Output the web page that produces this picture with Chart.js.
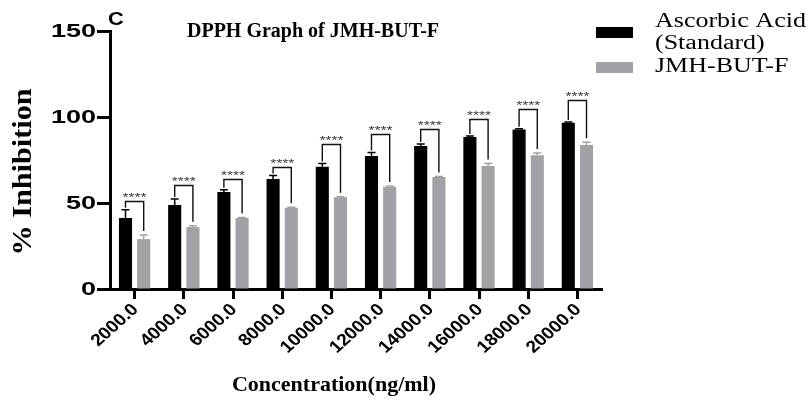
<!DOCTYPE html>
<html>
<head>
<meta charset="utf-8">
<script src="https://cdn.jsdelivr.net/npm/chart.js@4/dist/chart.umd.min.js"></script>
<style>
    html, body { margin: 0; padding: 0; background: #ffffff; }
    #wrap { width: 809px; height: 400px; position: relative; }
</style>
</head>
<body>
<div id="wrap"><canvas id="dpphChart" width="809" height="400"></canvas></div>
<script>
// concentrations (ng/ml)
const concentrations = ["2000.0", "4000.0", "6000.0", "8000.0", "10000.0", "12000.0", "14000.0", "16000.0", "18000.0", "20000.0"];

// mean % inhibition
const ascorbicMean = [41.3, 48.8, 56.4, 64.0, 71.1, 77.3, 83.1, 88.4, 92.8, 96.7];
const jmhMean = [29.0, 36.0, 41.3, 47.3, 53.3, 59.5, 65.1, 71.5, 77.7, 83.7];

// SD (upper error bars only)
const ascorbicSD = [4.8, 3.5, 1.3, 2.0, 1.9, 2.0, 1.2, 0.5, 0.4, 0.4];
const jmhSD = [2.4, 0.8, 0.3, 0.3, 0.3, 0.4, 0.3, 1.5, 1.3, 1.6];

// significance brackets (height in % inhibition) and stars
const bracketTop = [51, 60.5, 63.8, 71, 84.1, 89.9, 93.2, 98.8, 104.7, 109.9];
const sigLabels = ["****", "****", "****", "****", "****", "****", "****", "****", "****", "****"];

const yTicks = [0, 50, 100, 150];

const black = "#000000";
const grey = "rgb(162,162,166)";
const serif = "'Liberation Serif', 'Times New Roman', serif";
const sans = "'Liberation Sans', Arial, sans-serif";

// the exported figure text is drawn wide, so labels get a horizontal stretch
function wideText(ctx, text, x, y, sx) {
    ctx.save();
    ctx.translate(x, y);
    ctx.scale(sx, 1);
    ctx.fillText(text, 0, 0);
    ctx.restore();
}

// up-only error bars with a small cap
const errorBars = {
    id: "errorBars",
    afterDatasetsDraw(chart) {
        const ctx = chart.ctx;
        const y = chart.scales.y;
        const sds = [ascorbicSD, jmhSD];
        ctx.save();
        chart.data.datasets.forEach(function (ds, d) {
            const meta = chart.getDatasetMeta(d);
            ctx.strokeStyle = ds.backgroundColor;
            ctx.lineWidth = 1.5;
            meta.data.forEach(function (bar, i) {
                const top = y.getPixelForValue(ds.data[i] + sds[d][i]);
                ctx.beginPath();
                ctx.moveTo(bar.x, bar.y);
                ctx.lineTo(bar.x, top);
                ctx.moveTo(bar.x - 4, top);
                ctx.lineTo(bar.x + 4, top);
                ctx.stroke();
            });
        });
        ctx.restore();
    }
};

// brackets between the two bars of each group, with stars on top
const sigBrackets = {
    id: "sigBrackets",
    afterDatasetsDraw(chart) {
        const ctx = chart.ctx;
        const y = chart.scales.y;
        const a = chart.getDatasetMeta(0).data;
        const b = chart.getDatasetMeta(1).data;
        ctx.save();
        ctx.strokeStyle = "#111";
        ctx.lineWidth = 1.4;
        ctx.fillStyle = "#333";
        ctx.font = "11px " + sans;
        ctx.textAlign = "center";
        ctx.textBaseline = "bottom";
        for (let i = 0; i < concentrations.length; i++) {
            const lineY = Math.round(y.getPixelForValue(bracketTop[i])) + 0.5;
            const leftEnd = y.getPixelForValue(ascorbicMean[i] + ascorbicSD[i]) - 2;
            const rightEnd = y.getPixelForValue(jmhMean[i] + jmhSD[i]) - 4;
            ctx.beginPath();
            ctx.moveTo(a[i].x, leftEnd);
            ctx.lineTo(a[i].x, lineY);
            ctx.lineTo(b[i].x, lineY);
            ctx.lineTo(b[i].x, rightEnd);
            ctx.stroke();
            wideText(ctx, sigLabels[i], (a[i].x + b[i].x) / 2, lineY + 2, 1.4);
        }
        ctx.restore();
    }
};

// tick labels for both axes, taken from the scales
const tickLabels = {
    id: "tickLabels",
    afterDraw(chart) {
        const ctx = chart.ctx;
        const x = chart.scales.x;
        const y = chart.scales.y;
        ctx.save();
        ctx.fillStyle = "#000";

        ctx.font = "bold 18px " + sans;
        ctx.textAlign = "right";
        ctx.textBaseline = "middle";
        y.ticks.forEach(function (t) {
            wideText(ctx, String(t.value), y.right - 14, y.getPixelForValue(t.value) + 1, 1.5);
        });

        ctx.font = "bold 17px " + sans;
        x.ticks.forEach(function (t, i) {
            ctx.save();
            ctx.translate(x.getPixelForTick(i) + 1, x.top + 18);
            ctx.scale(1.12, 1);
            ctx.rotate(-Math.PI / 4);
            ctx.textAlign = "right";
            ctx.textBaseline = "middle";
            ctx.fillText(x.getLabelForValue(t.value), 0, 0);
            ctx.restore();
        });
        ctx.restore();
    }
};

// title, panel letter, axis titles and the legend
const decorations = {
    id: "decorations",
    afterDraw(chart) {
        const ctx = chart.ctx;
        ctx.save();
        ctx.fillStyle = "#000";
        ctx.textBaseline = "alphabetic";

        ctx.font = "bold 19px " + sans;
        ctx.textAlign = "left";
        wideText(ctx, "C", 108, 25, 1.15);

        ctx.font = "bold 20px " + serif;
        ctx.textAlign = "center";
        ctx.fillText("DPPH Graph of JMH-BUT-F", 313, 37);

        ctx.font = "bold 22px " + serif;
        ctx.fillText("Concentration(ng/ml)", 334, 391);

        ctx.save();
        ctx.translate(31, 172);
        ctx.rotate(-Math.PI / 2);
        ctx.scale(1.12, 1);
        ctx.font = "bold 27px " + serif;
        ctx.fillText("% Inhibition", 0, 0);
        ctx.restore();

        // legend
        ctx.font = "20px " + serif;
        ctx.textAlign = "left";
        const boxTops = [27, 62];
        const textBase = [[27, 49], [72]];
        chart.data.datasets.forEach(function (ds, d) {
            ctx.fillStyle = ds.backgroundColor;
            ctx.fillRect(596, boxTops[d], 37, 11);
            ctx.fillStyle = "#000";
            const lines = ds.label.replace(" (", "\n(").split("\n");
            lines.forEach(function (line, k) {
                wideText(ctx, line, 655, textBase[d][k], 1.3);
            });
        });
        ctx.restore();
    }
};

const ctx = document.getElementById("dpphChart").getContext("2d");

new Chart(ctx, {
    type: "bar",
    data: {
        labels: concentrations,
        datasets: [
            {
                label: "Ascorbic Acid (Standard)",
                data: ascorbicMean,
                backgroundColor: black,
                categoryPercentage: 0.74,
                barPercentage: 0.72
            },
            {
                label: "JMH-BUT-F",
                data: jmhMean,
                backgroundColor: grey,
                categoryPercentage: 0.74,
                barPercentage: 0.72
            }
        ]
    },
    options: {
        responsive: false,
        animation: false,
        devicePixelRatio: 1,
        layout: { padding: { left: 0, top: 31, right: 207, bottom: 0 } },
        plugins: {
            legend: { display: false },
            tooltip: { enabled: false }
        },
        scales: {
            x: {
                offset: true,
                grid: {
                    offset: false,
                    drawOnChartArea: false,
                    drawTicks: true,
                    tickLength: 10,
                    tickWidth: 3,
                    tickColor: "#000"
                },
                border: { display: true, color: "#000", width: 3 },
                ticks: { display: false },
                afterFit: function (scale) { scale.height = 111; }
            },
            y: {
                min: 0,
                max: 150,
                afterBuildTicks: function (scale) {
                    scale.ticks = yTicks.map(function (v) { return { value: v }; });
                },
                grid: {
                    drawOnChartArea: false,
                    drawTicks: true,
                    tickLength: 13,
                    tickWidth: 3,
                    tickColor: "#000"
                },
                border: { display: true, color: "#000", width: 3 },
                ticks: { display: false },
                afterFit: function (scale) { scale.width = 110; }
            }
        }
    },
    plugins: [errorBars, sigBrackets, tickLabels, decorations]
});
</script>
</body>
</html>
